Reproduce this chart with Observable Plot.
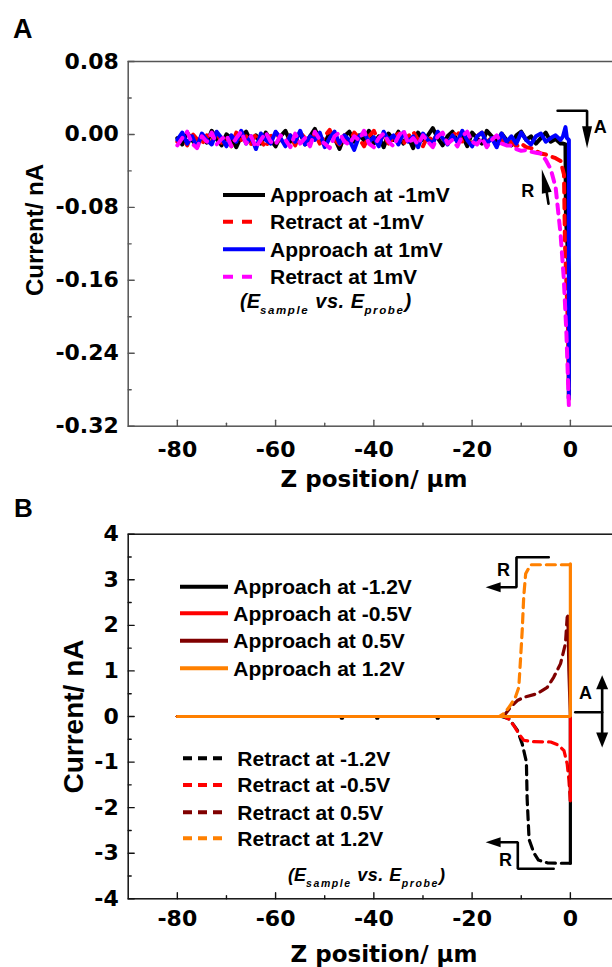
<!DOCTYPE html>
<html><head><meta charset="utf-8">
<script src="https://cdn.jsdelivr.net/npm/d3@7"></script>
<script src="https://cdn.jsdelivr.net/npm/@observablehq/plot@0.6"></script>
<style>
html,body{margin:0;padding:0;background:#fff;overflow:hidden;}
#wrap{position:relative;width:612px;height:967px;overflow:hidden;background:#fff;}
#wrap svg{position:absolute;left:0;}
</style></head><body><div id="wrap"></div>
<script>
// ---------------- Panel A data (nA vs µm) ----------------
const zGridA = d3.range(-80, -1, 1); // sample positions -80 … -2 of the noisy traces
const approachNeg1mV = [
-0.004,-0.011,0.002,-0.006,-0.013,-0.001,-0.009,0.004,-0.005,-0.012,
0.000,-0.004,-0.014,-0.002,0.003,-0.008,-0.001,-0.010,0.002,-0.006,
-0.013,-0.002,0.004,-0.008,-0.003,0.001,-0.011,-0.002,0.006,-0.006,
-0.010,0.002,-0.004,-0.016,-0.002,0.003,-0.008,-0.001,-0.006,0.004,
-0.010,-0.002,-0.014,0.001,-0.006,0.003,-0.010,-0.003,-0.015,0.002,
-0.006,-0.001,0.007,-0.004,-0.012,-0.002,0.003,-0.008,-0.001,-0.013,
0.002,-0.004,-0.010,0.004,-0.002,-0.008,0.001,-0.006,-0.012,-0.001,
0.003,-0.006,-0.002,-0.010,-0.004,0.002,-0.008,-0.005,-0.010];
const retractNeg1mV = [
-0.008,-0.002,-0.012,0.001,-0.005,-0.011,-0.001,-0.008,0.003,-0.009,
-0.003,-0.013,0.002,-0.006,-0.002,-0.011,0.001,-0.007,-0.014,-0.002,
0.003,-0.006,-0.010,-0.001,-0.012,0.002,-0.004,-0.008,0.001,-0.010,
-0.002,0.005,-0.006,-0.011,-0.001,-0.008,0.002,-0.004,-0.013,-0.002,
0.004,-0.008,-0.001,-0.010,-0.003,0.001,-0.011,-0.002,0.003,-0.006,
-0.013,-0.001,-0.008,0.002,-0.004,-0.010,-0.002,0.004,-0.008,-0.005,
-0.011,-0.002,0.002,-0.008,-0.004,-0.012,-0.006,-0.009,
-0.008,-0.013,-0.010,-0.014,-0.015,-0.018,-0.021,-0.022,-0.024,-0.026,-0.029];
const approachPos1mV = [
-0.006,0.002,-0.010,-0.002,-0.014,0.001,-0.006,-0.011,0.003,-0.004,
-0.013,-0.001,-0.008,0.004,-0.010,-0.002,-0.016,0.001,-0.006,-0.010,
0.003,-0.004,-0.013,-0.001,-0.008,0.004,-0.011,-0.002,-0.006,0.002,
-0.014,-0.004,0.003,-0.010,-0.001,-0.006,-0.017,-0.002,0.002,-0.008,
-0.003,-0.013,0.003,-0.006,-0.001,-0.011,0.002,-0.008,-0.002,-0.014,
0.001,-0.006,-0.010,0.003,-0.004,-0.011,-0.001,-0.008,0.004,-0.006,
-0.013,-0.002,0.002,-0.010,-0.004,-0.014,0.001,-0.008,-0.002,-0.010,
0.002,-0.006,-0.011,-0.002,0.001,-0.008,-0.004,-0.001,-0.006];
const retractPos1mV = [
-0.012,-0.004,0.003,-0.010,-0.015,-0.002,-0.008,0.002,-0.011,-0.005,
-0.001,-0.013,-0.004,0.003,-0.010,-0.002,-0.014,-0.006,0.002,-0.008,
-0.011,-0.001,-0.006,-0.014,0.001,-0.010,-0.004,-0.013,0.003,-0.006,
-0.010,-0.015,-0.002,0.002,-0.008,-0.011,-0.002,-0.006,0.004,-0.010,
-0.014,-0.004,0.001,-0.008,-0.013,-0.002,0.005,-0.010,-0.004,-0.011,
-0.001,-0.008,-0.014,-0.002,0.002,-0.010,-0.006,-0.013,-0.002,0.003,
-0.008,-0.011,-0.004,-0.014,-0.006,-0.001,-0.010,-0.012,
-0.012,-0.016,-0.018,-0.017,-0.019,-0.020,-0.021,-0.028,-0.038,-0.058,-0.109];
// last points near the surface (z, current)
const approachNeg1mVTailZ = [-1.5, -1.0, -0.9, -0.3, -0.3];
const approachNeg1mVTailI = [-0.010, -0.011, -0.092, -0.150, -0.290];
const retractNeg1mVTailZ = [-1.3, -1.1, -0.5, -0.3];
const retractNeg1mVTailI = [-0.044, -0.120, -0.210, -0.290];
const approachPos1mVTailZ = [-1.5, -1.0, -0.7, -0.3, -0.3];
const approachPos1mVTailI = [-0.002, 0.008, -0.004, -0.006, -0.289];
const retractPos1mVTailZ = [-1.35, -0.8, -0.3];
const retractPos1mVTailI = [-0.157, -0.219, -0.298];
const seriesA = ["Approach at -1mV", "Retract at -1mV", "Approach at 1mV", "Retract at 1mV"];

// ---------------- Panel B data ----------------
const bApproachNeg12Z = [-80, -46.8, -46.5, -46.2, -39.6, -39.3, -39.0, -27.3, -27.0, -26.7, 0, 0];
const bApproachNeg12I = [0, 0, -0.05, 0, 0, -0.05, 0, 0, -0.05, 0, 0, -3.22];
const bApproachNeg05Z = [-80, 0, 0];
const bApproachNeg05I = [0, 0, -1.85];
const bApproachPos05Z = [-80, 0, -0.3, -0.5];
const bApproachPos05I = [0, 0, 1.0, 2.2];
const bApproachPos12Z = [-80, 0, 0];
const bApproachPos12I = [0, 0, 3.35];
const bRetractNeg12Z = [0, -2, -4.7, -6.5, -7.4, -8.4, -8.8, -8.95, -9.8, -10.8, -12.5, -14, -80];
const bRetractNeg12I = [-3.22, -3.22, -3.21, -3.15, -3.0, -2.7, -1.8, -1.0, -0.6, -0.3, -0.05, 0, 0];
const bRetractNeg05Z = [0, -0.3, -0.65, -1.3, -2.4, -4, -8, -9.5, -10.5, -11.5, -12.5, -13.5, -80];
const bRetractNeg05I = [-1.85, -1.4, -1.04, -0.75, -0.63, -0.56, -0.55, -0.52, -0.38, -0.2, -0.06, 0, 0];
const bRetractPos05Z = [-0.5, -0.65, -1.0, -2.0, -3.4, -4.7, -6.8, -9.5, -10.8, -12.2, -13.2, -14, -80];
const bRetractPos05I = [2.2, 2.18, 1.6, 1.16, 0.86, 0.64, 0.50, 0.42, 0.35, 0.20, 0.06, 0, 0];
const bRetractPos12Z = [0, -8.1, -9.1, -9.5, -9.8, -10.2, -10.5, -11.2, -12.5, -13.6, -14.5, -80];
const bRetractPos12I = [3.33, 3.33, 3.13, 2.62, 1.89, 1.16, 0.64, 0.42, 0.2, 0.06, 0, 0];
const seriesBApproach = ["Approach at -1.2V", "Approach at -0.5V", "Approach at 0.5V", "Approach at 1.2V"];
const seriesBRetract = ["Retract at -1.2V", "Retract at -0.5V", "Retract at 0.5V", "Retract at 1.2V"];

// ticks
const xMajor = [-80, -60, -40, -20, 0];
const xMinor = [-70, -50, -30, -10];
const yMajorA = [0.08, 0, -0.08, -0.16, -0.24, -0.32];
const yMinorA = [0.04, -0.04, -0.12, -0.20, -0.28];
const yMajorB = [4, 3, 2, 1, 0, -1, -2, -3, -4];
const yMinorB = [3.5, 2.5, 1.5, 0.5, -0.5, -1.5, -2.5, -3.5];

// annotations (data units)
const annA_bracketA = [[-2.6, 0.026], [3.4, 0.026], [3.4, 0.008]];
const annA_headA = [[3.4, 0.009]];
const annA_shaftR = [[-4.45, -0.076], [-4.8, -0.064]];
const annA_headR = [[-4.8, -0.064]];
const annA_labels = [[6.1, 0.0075, "A"], [-8.7, -0.062, "R"]];
const annB_top = [[-4.4, 3.495], [-10.97, 3.495], [-10.97, 2.837], [-14.2, 2.837]];
const annB_bottom = [[-3.4, -3.341], [-10.7, -3.341], [-10.7, -2.758], [-14.2, -2.758]];
const annB_headsLeft = [[-14.2, 2.837], [-14.2, -2.758]];
const annB_Ahoriz = [[1.0, 0.094], [6.47, 0.094]];
const annB_Avert = [[6.47, 0.6], [6.47, -0.35]];
const annB_headUp = [[6.47, 0.6]];
const annB_headDown = [[6.47, -0.35]];
const annB_labels = [[-13.6, 3.2, "R"], [-13.2, -3.16, "R"], [3.07, 0.5, "A"]];

// ---------------- styles ----------------
const FONT = '"Liberation Sans", Arial, Helvetica, sans-serif';
const WIDEFONT = '"DejaVu Sans", Verdana, sans-serif';
const colorsA = ["#000000", "#ff0000", "#0000ff", "#ff00ff"];
const dashA = [null, "9,7", null, "9,7"];
const colorsB = ["#000000", "#ff0000", "#800000", "#ff8000"];

function rows(zs, is, name) { return zs.map((z, i) => ({z, current: is[i], series: name})); }
const dataA = [
  rows(zGridA.concat(approachNeg1mVTailZ), approachNeg1mV.concat(approachNeg1mVTailI), seriesA[0]),
  rows(zGridA.concat(retractNeg1mVTailZ), retractNeg1mV.concat(retractNeg1mVTailI), seriesA[1]),
  rows(zGridA.concat(approachPos1mVTailZ), approachPos1mV.concat(approachPos1mVTailI), seriesA[2]),
  rows(zGridA.concat(retractPos1mVTailZ), retractPos1mV.concat(retractPos1mVTailI), seriesA[3])
];
const dataBApp = [
  rows(bApproachNeg12Z, bApproachNeg12I, seriesBApproach[0]),
  rows(bApproachNeg05Z, bApproachNeg05I, seriesBApproach[1]),
  rows(bApproachPos05Z, bApproachPos05I, seriesBApproach[2]),
  rows(bApproachPos12Z, bApproachPos12I, seriesBApproach[3])
];
const dataBRet = [
  rows(bRetractNeg12Z, bRetractNeg12I, seriesBRetract[0]),
  rows(bRetractNeg05Z, bRetractNeg05I, seriesBRetract[1]),
  rows(bRetractPos05Z, bRetractPos05I, seriesBRetract[2]),
  rows(bRetractPos12Z, bRetractPos12I, seriesBRetract[3])
];

const tickShape = {draw(ctx, l) { ctx.moveTo(0, 0); ctx.lineTo(0, -l); }};
function ticks(values, axis, len, color) {
  const o = {length: len, anchor: "start", shape: tickShape, stroke: color, fill: "none", strokeWidth: 1.4};
  return axis === "x"
    ? Plot.vector(values, {...o, x: d => d, frameAnchor: "bottom", rotate: 0})
    : Plot.vector(values, {...o, y: d => d, frameAnchor: "left", rotate: 90});
}
function spikes(pts, rot, len, r) {
  return Plot.vector(pts, {x: d => d[0], y: d => d[1], rotate: rot, length: len, r, shape: "spike", anchor: "start", fill: "#000", stroke: "none"});
}
function path(pts, sw) {
  return Plot.line(pts, {x: d => d[0], y: d => d[1], stroke: "#000", strokeWidth: sw, strokeLinejoin: "miter"});
}
function labels(pts) {
  return Plot.text(pts, {x: d => d[0], y: d => d[1], text: d => d[2], fontSize: 18, fontWeight: "bold", fill: "#000"});
}
const axisText = {fontSize: 22, fontWeight: "bold", fontFamily: WIDEFONT, fill: "#000", label: null, tickSize: 0};
const baseStyle = {fontFamily: FONT, fontSize: "22px", fontWeight: "bold", background: "transparent", maxWidth: "none", overflow: "visible", color: "#000"};

const wrap = document.getElementById("wrap");

// ---------------- Plot A ----------------
const frameA = "#555";
const plotA = Plot.plot({
  width: 619, height: 460,
  marginLeft: 127.7, marginRight: 0, marginTop: 61, marginBottom: 34.3,
  x: {domain: [-90, 10]},
  y: {domain: [-0.32, 0.08]},
  style: baseStyle,
  marks: [
    ...dataA.map((d, i) => Plot.line(d, {x: "z", y: "current", stroke: colorsA[i], strokeWidth: 4, strokeDasharray: dashA[i], strokeLinejoin: "round"})),
    Plot.frame({stroke: frameA, strokeWidth: 1.5}),
    ticks(xMajor, "x", 6, frameA), ticks(xMinor, "x", 3, frameA),
    ticks(yMajorA, "y", 6, frameA), ticks(yMinorA, "y", 3, frameA),
    Plot.axisX({...axisText, ticks: xMajor, tickPadding: 15, tickFormat: d => String(d)}),
    Plot.axisY({...axisText, ticks: yMajorA, tickPadding: 9.4, tickFormat: d => d.toFixed(2)}),
    path(annA_bracketA, 2.6), spikes(annA_headA, 180, 22, 5),
    path(annA_shaftR, 2.6), spikes(annA_headR, -12, 24, 5),
    labels(annA_labels)
  ]
});
plotA.style.top = "0px";
wrap.appendChild(plotA);

// ---------------- Plot B ----------------
const frameB = "#111";
const plotB = Plot.plot({
  width: 619, height: 450,
  marginLeft: 127.7, marginRight: 0, marginTop: 53.7, marginBottom: 31.7,
  x: {domain: [-90, 10]},
  y: {domain: [-4, 4]},
  style: baseStyle,
  marks: [
    ...dataBRet.map((d, i) => Plot.line(d, {x: "z", y: "current", stroke: colorsB[i], strokeWidth: 3.2, strokeDasharray: "9,6", strokeLinejoin: "round"})),
    ...dataBApp.map((d, i) => Plot.line(d, {x: "z", y: "current", stroke: colorsB[i], strokeWidth: 3.2, strokeLinejoin: "miter"})),
    Plot.frame({stroke: frameB, strokeWidth: 1.5}),
    ticks(xMajor, "x", 6, frameB), ticks(xMinor, "x", 3, frameB),
    ticks(yMajorB, "y", 6, frameB), ticks(yMinorB, "y", 3, frameB),
    Plot.axisX({...axisText, ticks: xMajor, tickPadding: 12, tickFormat: d => String(d)}),
    Plot.axisY({...axisText, ticks: yMajorB, tickPadding: 9.4, tickFormat: d => String(d)}),
    path(annB_top, 2.6), path(annB_bottom, 2.6), spikes(annB_headsLeft, -90, 15, 5),
    path(annB_Ahoriz, 2.6), path(annB_Avert, 2.6), spikes(annB_headUp, 0, 14, 6), spikes(annB_headDown, 180, 15, 6),
    labels(annB_labels)
  ]
});
plotB.style.top = "480px";
wrap.appendChild(plotB);

// ---------------- overlay: titles, panel letters, legends ----------------
const ov = d3.create("svg").attr("width", 612).attr("height", 967)
  .style("position", "absolute").style("left", "0").style("top", "0").style("pointer-events", "none")
  .attr("font-family", FONT).attr("font-weight", "bold").attr("fill", "#000");
ov.append("text").attr("x", 13).attr("y", 38).attr("font-size", 27).text("A");
ov.append("text").attr("x", 14).attr("y", 517).attr("font-size", 26).text("B");
function ytitle(x, y, size, t) {
  ov.append("text").attr("transform", `translate(${x},${y}) rotate(-90)`).attr("text-anchor", "middle").attr("font-size", size).text(t);
}
function xtitle(x, y, size, t) {
  ov.append("text").attr("x", x).attr("y", y).attr("text-anchor", "middle").attr("font-family", WIDEFONT).attr("font-size", size).text(t);
}
ytitle(43, 230, 24, "Current/ nA");
ytitle(83, 716.5, 28, "Current/ nA");
xtitle(374, 486.7, 23, "Z position/ µm");
xtitle(384, 961.7, 23, "Z position/ µm");

function legendRow(x1, x2, tx, y, color, dash, label) {
  ov.append("line").attr("x1", x1).attr("x2", x2).attr("y1", y).attr("y2", y)
    .attr("stroke", color).attr("stroke-width", 4).attr("stroke-dasharray", dash);
  ov.append("text").attr("x", tx).attr("y", y).attr("dy", "0.35em").attr("font-size", 21).text(label);
}
const legAy = [195, 221.7, 249.3, 276.7];
seriesA.forEach((s, i) => legendRow(223, dashA[i] ? 252 : 265, 270, legAy[i], colorsA[i], dashA[i] ? "10,9" : null, s));
const legBAy = [586.7, 613.3, 640.7, 668.3];
const legBRy = [758.3, 785, 812.3, 838.3];
seriesBApproach.forEach((s, i) => legendRow(180, 228, 233.3, legBAy[i], colorsB[i], null, s));
seriesBRetract.forEach((s, i) => legendRow(183, 222, 237.3, legBRy[i], colorsB[i], "9,6", s));

function caption(x, y, size, sub) {
  const t = ov.append("text").attr("x", x).attr("y", y).attr("font-size", size).attr("font-style", "italic");
  t.append("tspan").text("(E");
  t.append("tspan").attr("font-size", sub).attr("dy", 6).attr("letter-spacing", 1.6).text("sample");
  t.append("tspan").attr("dy", -6).attr("letter-spacing", 0.5).text(" vs. E");
  t.append("tspan").attr("font-size", sub).attr("dy", 6).attr("letter-spacing", 1.6).text("probe");
  t.append("tspan").attr("dy", -6).text(")");
}
caption(240, 308, 20, 11.5);
caption(288, 881, 18, 10.5);
wrap.appendChild(ov.node());
</script></body></html>
